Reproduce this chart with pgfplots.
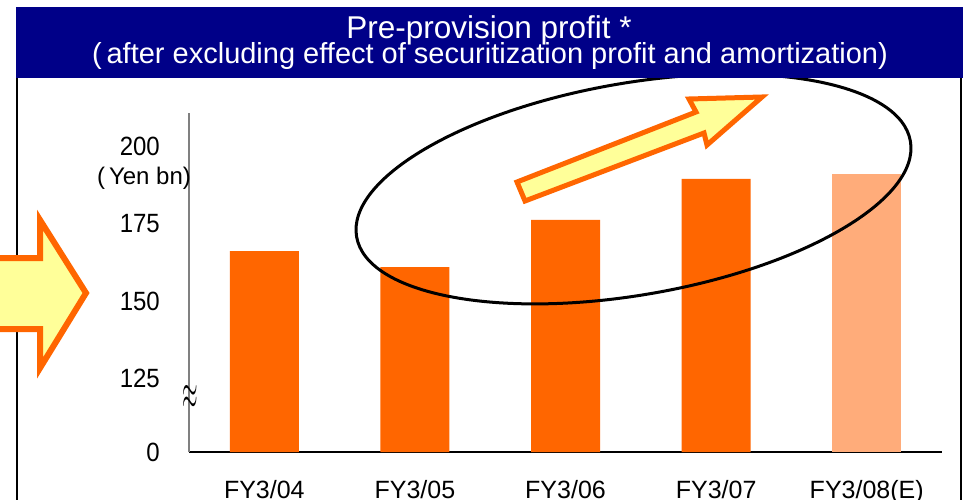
\documentclass[border=0pt]{standalone}
\usepackage{pgfplots}
\pgfplotsset{compat=1.18}
\usepackage{fontspec}
\setmainfont{Liberation Sans}
\definecolor{navyb}{RGB}{0,0,136}
\definecolor{barorange}{RGB}{255,102,0}
\definecolor{lightorange}{RGB}{255,172,122}
\definecolor{paleyellow}{RGB}{255,255,153}
\begin{document}
\begin{tikzpicture}
\useasboundingbox (0pt,0pt) rectangle (966pt,-500pt);
\begin{scope}[x=1pt,y=-1pt]
\fill[white] (0,0) rectangle (966,500);
\draw[line width=2pt] (17,71) -- (17,505);
\draw[line width=2pt] (961,78) -- (961,505);
\filldraw[fill=paleyellow, draw=barorange, line width=6pt, line join=miter]
  (-20,258) -- (40,258) -- (40,220) -- (86,293) -- (40,368) -- (40,329) -- (-20,329) -- cycle;
\end{scope}
\begin{axis}[
  at={(189pt,-452pt)}, anchor=south west, scale only axis,
  width=753pt, height=339pt,
  xmin=-0.5, xmax=4.5, ymin=101, ymax=211,
  axis x line=bottom, axis y line=left, axis line style={-},
  x axis line style={black, line width=1.5pt},
  y axis line style={gray, line width=1.2pt},
  xtick={0,1,2,3,4},
  xticklabels={FY3/04,FY3/05,FY3/06,FY3/07,FY3/08(E)},
  ytick={101,125,150,175,200},
  yticklabels={0,125,150,175,200},
  major tick length=0pt,
  /pgf/number format/assume math mode=true,
  tick label style={font=\fontsize{24}{24}\selectfont},
  yticklabel style={anchor=east, inner sep=0pt, xshift=-29pt, yscale=1.1},
  xticklabel style={anchor=base, inner sep=0pt, yshift=-46pt, font=\fontsize{25}{25}\selectfont},
]
\addplot[ybar, bar width=69pt, bar shift=0pt, fill=barorange, draw=none]
  coordinates {(0,166.2) (1,161.0) (2,176.3) (3,189.6)};
\addplot[ybar, bar width=69pt, bar shift=0pt, fill=lightorange, draw=none]
  coordinates {(4,191.2)};
\end{axis}
\draw[line width=3pt, rotate around={9.8:(633.5pt,-189pt)}] (633.5pt,-189pt) ellipse [x radius=281pt, y radius=106pt];
\begin{scope}[x=1pt,y=-1pt]
\node[font=\fontsize{24}{24}\selectfont, inner sep=0pt] at (144,178) {(\,Yen bn)};
\node[font=\fontsize{26}{26}\selectfont, inner sep=0pt] at (190,397) {\scalebox{0.8}[2]{$\approx$}};
\filldraw[fill=paleyellow, draw=barorange, line width=5pt, line join=miter]
  (517,182) -- (696,112) -- (689,99) -- (762,97) -- (707,145) -- (704,133) -- (525,201) -- cycle;
\fill[navyb] (16,7) rectangle (963,78);
\node[anchor=base, white, font=\fontsize{31.5}{31.5}\selectfont, inner sep=0pt] at (489,39) {Pre-provision profit *};
\node[anchor=base, white, font=\fontsize{29}{29}\selectfont, inner sep=0pt] at (490,64) {(\,after excluding effect of securitization profit and amortization)};
\end{scope}
\end{tikzpicture}
\end{document}
